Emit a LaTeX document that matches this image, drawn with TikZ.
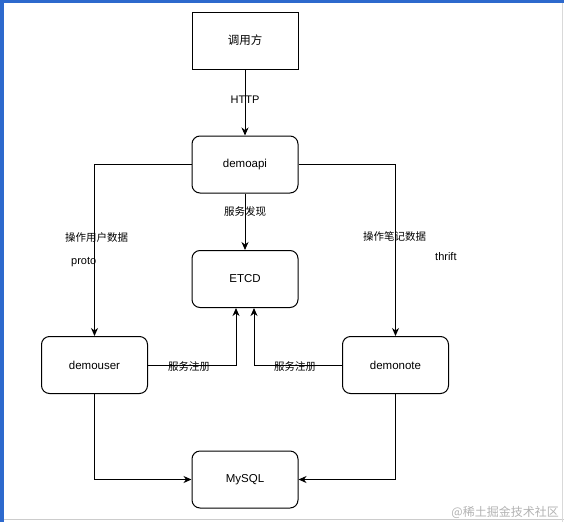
\documentclass[tikz,border=0pt]{standalone}
\usepackage{fontspec}
\setmainfont{Liberation Sans}
\newfontfamily\zhfont{Noto Sans CJK SC}
\usetikzlibrary{arrows.meta,calc}

\definecolor{framebg}{RGB}{45,105,205}

\tikzset{
  box/.style={draw, line width=1pt, minimum width=106pt, minimum height=57pt,
    inner sep=0pt, font=\fontsize{11.5}{13}\selectfont},
  rbox/.style={box, rounded corners=8pt},
  link/.style={line width=1pt, -{Stealth[length=8pt,width=7pt,inset=2.5pt]}},
  zhlbl/.style={inner sep=0pt, font=\zhfont\fontsize{10.5}{12}\selectfont},
  enlbl/.style={inner sep=0pt, font=\fontsize{11}{13}\selectfont},
}

\begin{document}
\begin{tikzpicture}[x=1pt,y=-1pt]
    \useasboundingbox (0,0) rectangle (564,522);
    % screenshot frame
    \fill[framebg] (0,0) rectangle (564,3);
    \fill[framebg] (0,0) rectangle (4,522);
    \draw[gray!40] (4,519.5) -- (564,519.5);
    \draw[gray!30] (562.5,3) -- (562.5,522);

    % boxes
    \node[box]  (caller)   at (245,40.5)  {\zhfont 调用方};
    \node[rbox] (demoapi)  at (245,164.5) {demoapi};
    \node[rbox] (etcd)     at (245,279)   {ETCD};
    \node[rbox] (demouser) at (94.5,365)  {demouser};
    \node[rbox] (demonote) at (395.5,365) {demonote};
    \node[rbox] (mysql)    at (245,479.5) {MySQL};

    % connectors
    \draw[link] (caller) -- (demoapi);
    \draw[link] (demoapi) -- (etcd);
    \draw[link] (demoapi.west) -| (demouser.north);
    \draw[link] (demoapi.east) -| (demonote.north);
    \draw[link] (demouser.east) -| ($(etcd.south)+(-9,0)$);
    \draw[link] (demonote.west) -| ($(etcd.south)+(9,0)$);
    \draw[link] (demouser.south) |- (mysql.west);
    \draw[link] (demonote.south) |- (mysql.east);

    % labels
    \node[enlbl] (httplbl) at (245,100) {HTTP};
    \node[zhlbl] (findlbl) at (245,212) {服务发现};
    \node[zhlbl] (userlbl) at (96.5,238) {操作用户数据};
    \node[enlbl, anchor=west] (protolbl) at (71,262) {proto};
    \node[zhlbl] (notelbl) at (394.5,236) {操作笔记数据};
    \node[enlbl, anchor=west] (thriftlbl) at (435,257) {thrift};
    \node[zhlbl] (reglbl1) at (189,367) {服务注册};
    \node[zhlbl] (reglbl2) at (295,367) {服务注册};

    % site mark
    \node[anchor=east, text=gray!60, inner sep=0pt, font=\zhfont\fontsize{12}{14}\selectfont]
      (sitemark) at (559,512) {@稀土掘金技术社区};
\end{tikzpicture}
\end{document}
